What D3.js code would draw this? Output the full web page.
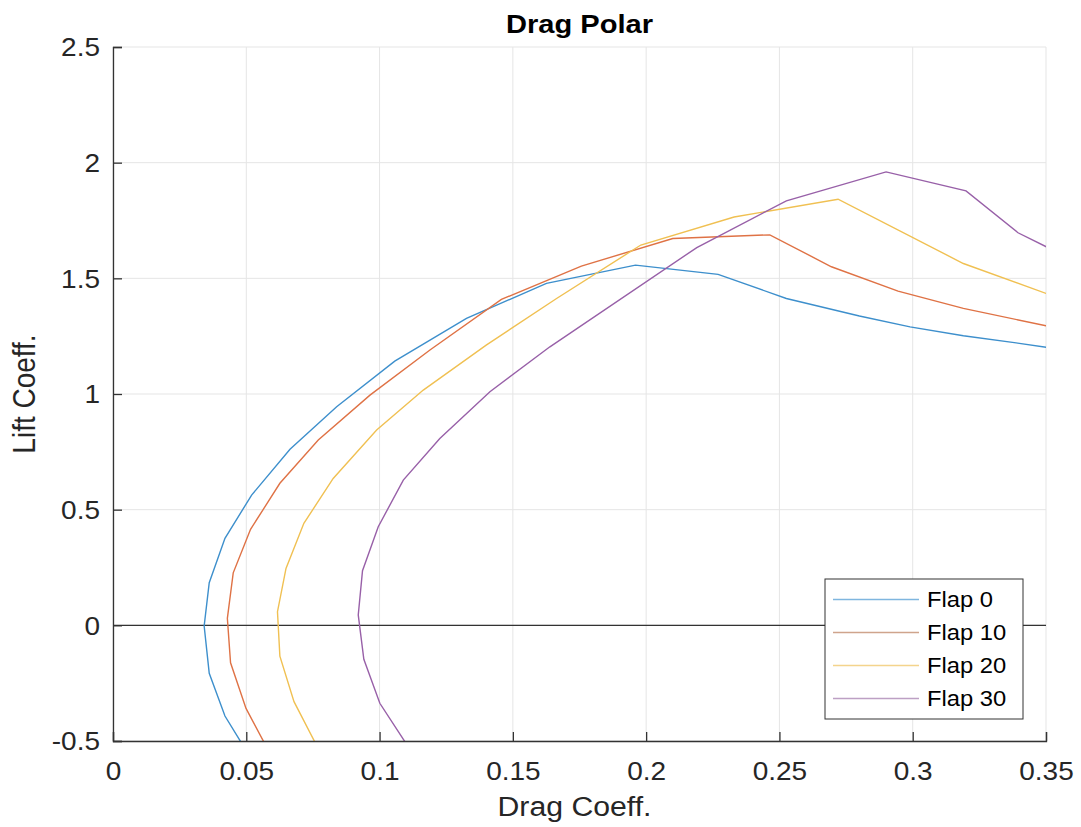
<!DOCTYPE html>
<html>
<head>
<meta charset="utf-8">
<script src="https://cdn.jsdelivr.net/npm/d3@7"></script>
<style>
  body { margin: 0; background: #fff; }
  svg { display: block; font-family: "Liberation Sans", Arial, sans-serif; }
</style>
</head>
<body>
<svg id="chart"></svg>
<script>
// series: [drag coeff, lift coeff]
const flap0 = [[0.052,-0.58],[0.042,-0.392],[0.0361,-0.207],[0.0342,-0.003],[0.0361,0.184],[0.042,0.376],[0.052,0.563],[0.0664,0.761],[0.0839,0.945],[0.1057,1.142],[0.1326,1.327],[0.1626,1.478],[0.196,1.557],[0.227,1.517],[0.2526,1.413],[0.280,1.337],[0.299,1.290],[0.319,1.252],[0.340,1.219],[0.360,1.185]];
const flap10 = [[0.061,-0.60],[0.0499,-0.359],[0.0441,-0.162],[0.0429,0.030],[0.0451,0.227],[0.0516,0.415],[0.0626,0.614],[0.077,0.801],[0.0964,0.995],[0.1189,1.19],[0.1457,1.409],[0.1757,1.553],[0.210,1.672],[0.2464,1.688],[0.2695,1.550],[0.2945,1.445],[0.319,1.370],[0.350,1.295],[0.37,1.25]];
const flap20 = [[0.080,-0.60],[0.0679,-0.330],[0.0626,-0.133],[0.0617,0.059],[0.0649,0.246],[0.0716,0.441],[0.0826,0.635],[0.0989,0.844],[0.1164,1.017],[0.140,1.211],[0.1664,1.413],[0.198,1.644],[0.233,1.765],[0.272,1.842],[0.319,1.564],[0.350,1.435],[0.37,1.37]];
const flap30 = [[0.115,-0.60],[0.1001,-0.337],[0.0941,-0.147],[0.092,0.045],[0.0936,0.236],[0.0995,0.426],[0.1089,0.628],[0.1226,0.808],[0.1414,1.010],[0.1639,1.204],[0.219,1.633],[0.2526,1.835],[0.290,1.960],[0.320,1.878],[0.3395,1.697],[0.360,1.58]];

const seriesNames = ["Flap 0", "Flap 10", "Flap 20", "Flap 30"];
const seriesData = [flap0, flap10, flap20, flap30];
const colors = ["#3d8fcc", "#df7245", "#f0c052", "#9860a8"];
const legendColors = ["#7fb6df", "#cfa48c", "#f4d48c", "#bda0c4"];
const xTicks = [0, 0.05, 0.1, 0.15, 0.2, 0.25, 0.3, 0.35];
const yTicks = [-0.5, 0, 0.5, 1, 1.5, 2, 2.5];

const W = 1081, H = 827;
const margin = { top: 47, right: 35, bottom: 86, left: 113 };
const width = W - margin.left - margin.right;
const height = H - margin.top - margin.bottom;
const sx = 1.12; // the picture's text is a little wider than the font

const svg = d3.select('#chart').attr('width', W).attr('height', H);

const x = d3.scaleLinear().domain([0, 0.35]).range([0, width]);
const y = d3.scaleLinear().domain([-0.5, 2.5]).range([height, 0]);

const g = svg.append('g').attr('transform', `translate(${margin.left},${margin.top})`);

g.append('clipPath').attr('id', 'clip')
  .append('rect').attr('width', width).attr('height', height);

// grid
g.selectAll('.vgrid').data(xTicks).enter().append('line')
  .attr('x1', d => x(d)).attr('x2', d => x(d))
  .attr('y1', 0).attr('y2', height)
  .attr('stroke', '#e5e5e5').attr('stroke-width', 1);
g.selectAll('.hgrid').data(yTicks).enter().append('line')
  .attr('x1', 0).attr('x2', width)
  .attr('y1', d => y(d)).attr('y2', d => y(d))
  .attr('stroke', '#e5e5e5').attr('stroke-width', 1);

// zero line
g.append('line')
  .attr('x1', 0).attr('x2', width)
  .attr('y1', y(0)).attr('y2', y(0))
  .attr('stroke', '#333').attr('stroke-width', 1.3);

// curves
const line = d3.line().x(d => x(d[0])).y(d => y(d[1]));
g.append('g').attr('clip-path', 'url(#clip)')
  .selectAll('path').data(seriesData).enter().append('path')
  .attr('d', line)
  .attr('fill', 'none')
  .attr('stroke', (d, i) => colors[i])
  .attr('stroke-width', 1.4);

// axes (ticks inward like matlab), plain hyphen for minus
const fmt = d => d3.format('~g')(d).replace('\u2212', '-');
const xAxis = d3.axisBottom(x).tickValues(xTicks).tickSize(-9).tickPadding(21).tickFormat(fmt);
const yAxis = d3.axisLeft(y).tickValues(yTicks).tickSize(-9).tickPadding(13).tickFormat(fmt);

const gx = g.append('g').attr('transform', `translate(0,${height})`).call(xAxis);
const gy = g.append('g').call(yAxis);
[gx, gy].forEach(a => {
  a.select('.domain').attr('stroke', '#333').attr('stroke-width', 1.3);
  a.selectAll('.tick line').attr('stroke', '#333').attr('stroke-width', 1.3);
  a.selectAll('.tick text').attr('fill', '#262626')
    .attr('transform', `scale(${sx},1)`)
    .style('font-size', '25px').style('font-family', '"Liberation Sans", Arial, sans-serif');
});
gy.selectAll('.tick text').attr('x', -13 / sx).attr('dy', '0.35em');

// title and labels
svg.append('text')
  .attr('transform', `translate(${margin.left + width / 2},33) scale(${sx},1)`)
  .attr('text-anchor', 'middle')
  .style('font-size', '26px').style('font-weight', 'bold').attr('fill', '#000')
  .text('Drag Polar');

svg.append('text')
  .attr('transform', `translate(${margin.left + width / 2 - 5},816) scale(${sx},1)`)
  .attr('text-anchor', 'middle')
  .style('font-size', '27px').attr('fill', '#262626')
  .text('Drag Coeff.');

svg.append('text')
  .attr('transform', `translate(35,${margin.top + height / 2}) scale(${sx},1) rotate(-90)`)
  .attr('text-anchor', 'middle')
  .style('font-size', '28px').attr('fill', '#262626')
  .text('Lift Coeff.');

// legend
const legend = svg.append('g').attr('transform', 'translate(825,579)');
legend.append('rect')
  .attr('width', 198).attr('height', 140)
  .attr('fill', '#fff').attr('stroke', '#333').attr('stroke-width', 1);
seriesNames.forEach((name, i) => {
  const ly = 20.5 + i * 33;
  legend.append('line')
    .attr('x1', 8).attr('x2', 94).attr('y1', ly).attr('y2', ly)
    .attr('stroke', legendColors[i]).attr('stroke-width', 1.6);
  legend.append('text')
    .attr('transform', `translate(102,${ly}) scale(1.08,1)`)
    .attr('dy', '0.35em')
    .style('font-size', '22px').attr('fill', '#000')
    .text(name);
});
</script>
</body>
</html>
